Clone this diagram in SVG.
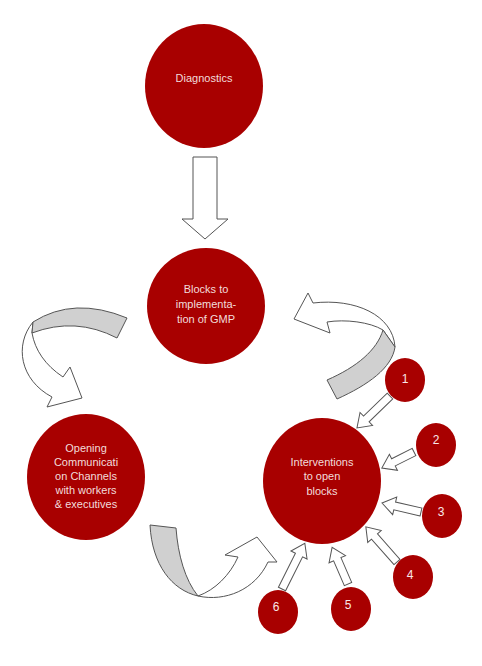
<svg xmlns="http://www.w3.org/2000/svg" width="482" height="666" viewBox="0 0 482 666">
<style>
.node{fill:#a80000}
.lbl{font-family:"Liberation Sans",Arial,sans-serif;font-size:11px;fill:#f2dcdb;text-anchor:middle}
.num{font-family:"Liberation Sans",Arial,sans-serif;font-size:12px;fill:#f8e8e8;text-anchor:middle}
.arr{fill:#fff;stroke:#555;stroke-width:1;stroke-linejoin:miter}
.band{fill:#d0d0d0;stroke:#555;stroke-width:1}
</style>
<rect width="482" height="666" fill="#fff"/>
<g id="connectors">
  <polygon class="arr" points="193,157 217,157 217,219 228,219 205,239 182,219 193,219"/>
  <path class="arr" d="M33,322 C14,345 20,380 52,397 L47,407 L82,398 L70,367 L63,377 C45,365 35,350 32,333 Z"/>
  <path class="band" d="M33,322 Q74,296 127,318 L117,338 Q75.5,316.5 32,333 Z"/>
  <path class="arr" d="M383,330 C370,322 345,319 327,322 L330,333 L294,319 L308,293 L313,303 C355,298 393,315 395,347 Z"/>
  <path class="band" d="M327,380 C357,367 377,350 383,330 L395,347 C392,368 368,385 337,399 Z"/>
  <path class="arr" d="M198,596 C225,602 255,590 268,562 L277,562 L257,537 L225,555 L238,557 C230,575 215,590 198,596 Z"/>
  <path class="band" d="M150,525 L176,528 C178,555 185,580 198,596 C172,590 152,565 150,525 Z"/>
  <polygon class="arr" transform="translate(390,396) rotate(135.9)" points="0,-4 33,-4 33,-9 46,0 33,9 33,4 0,4"/>
  <polygon class="arr" transform="translate(414,452) rotate(153.4)" points="0,-4 23,-4 23,-9 36,0 23,9 23,4 0,4"/>
  <polygon class="arr" transform="translate(421,512) rotate(193)" points="0,-4 27,-4 27,-9 40,0 27,9 27,4 0,4"/>
  <polygon class="arr" transform="translate(397,562) rotate(228.5)" points="0,-4 34,-4 34,-9 47,0 34,9 34,4 0,4"/>
  <polygon class="arr" transform="translate(348,584) rotate(246.6)" points="0,-4 27,-4 27,-9 40,0 27,9 27,4 0,4"/>
  <polygon class="arr" transform="translate(282,589) rotate(-63.4)" points="0,-4 38,-4 38,-9 51,0 38,9 38,4 0,4"/>
</g>
<g id="diagnostics">
  <ellipse class="node" cx="204" cy="86" rx="59" ry="62"/>
  <text class="lbl" x="204" y="82">Diagnostics</text>
</g>
<g id="blocks">
  <ellipse class="node" cx="206" cy="306" rx="59" ry="58"/>
  <text class="lbl" x="206" y="293">Blocks to</text>
  <text class="lbl" x="206" y="308">implementa-</text>
  <text class="lbl" x="206" y="323">tion of GMP</text>
</g>
<g id="opening">
  <ellipse class="node" cx="86" cy="477" rx="59" ry="63"/>
  <text class="lbl" x="86" y="452">Opening</text>
  <text class="lbl" x="86" y="466">Communicati</text>
  <text class="lbl" x="86" y="480">on Channels</text>
  <text class="lbl" x="86" y="494">with workers</text>
  <text class="lbl" x="86" y="508">&amp; executives</text>
</g>
<g id="interventions">
  <ellipse class="node" cx="322" cy="481" rx="59" ry="63"/>
  <text class="lbl" x="322" y="466">Interventions</text>
  <text class="lbl" x="322" y="480">to open</text>
  <text class="lbl" x="322" y="495">blocks</text>
</g>
<g id="n1"><ellipse class="node" cx="405" cy="380" rx="20" ry="22"/><text class="num" x="405" y="383">1</text></g>
<g id="n2"><ellipse class="node" cx="436" cy="445" rx="20" ry="22"/><text class="num" x="436" y="444">2</text></g>
<g id="n3"><ellipse class="node" cx="442" cy="516" rx="20" ry="22"/><text class="num" x="441" y="516">3</text></g>
<g id="n4"><ellipse class="node" cx="413" cy="577" rx="20" ry="22"/><text class="num" x="410" y="579">4</text></g>
<g id="n5"><ellipse class="node" cx="351" cy="609" rx="20" ry="22"/><text class="num" x="348" y="609">5</text></g>
<g id="n6"><ellipse class="node" cx="278" cy="612" rx="20" ry="22"/><text class="num" x="276" y="611">6</text></g>
</svg>
